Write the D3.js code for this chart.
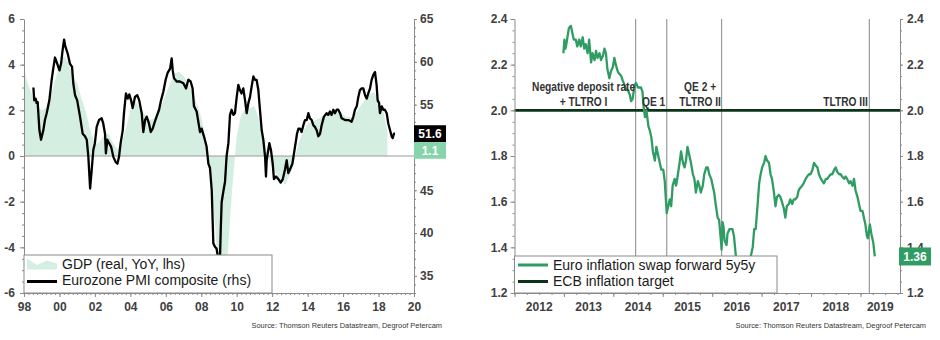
<!DOCTYPE html>
<html><head><meta charset="utf-8">
<script src="https://cdn.jsdelivr.net/npm/d3@7"></script>
<style>body{margin:0;background:#fff}svg{display:block}</style>
</head><body>
<svg id="c" width="940" height="340"></svg>
<script>
// ---------------- DATA ----------------
// Left chart: Eurozone GDP (real, YoY, %) quarterly from 1998 Q1
const gdpStartYear = 1998;
const gdpValues = [
 3.8,3.1,2.6,2.2, 2.0,2.1,2.6,3.3, 4.0,4.4,4.1,3.5, 3.2,2.5,1.9,1.1,
 0.5,0.6,0.9,1.0, 0.6,0.3,0.5,1.2, 2.0,2.4,2.2,1.9, 1.6,1.6,1.8,2.2,
 2.7,3.2,3.6,3.7, 3.5,3.2,2.8,2.3, 1.7,0.8,-0.6,-2.8, -5.3,-5.6,-4.2,-1.4,
 0.9,1.8,2.1,2.1, 2.2,1.6,0.8,0.0, -0.5,-0.8,-1.1,-1.25, -0.8,-0.2,0.6,1.1,
 1.4,1.5,1.6,1.7, 1.8,1.9,1.9,1.9, 1.8,1.7,1.7,1.9, 2.2,2.5,2.7,2.8,
 2.4,2.0,1.1
];
// Eurozone PMI composite (rhs)
const pmiDates = [
 1998.53,1998.58,1998.66,1998.71,1998.77,1998.87,1998.96,1999.09,1999.18,1999.28,1999.43,1999.56,1999.65,1999.75,1999.84,
 2000.00,2000.09,2000.18,2000.26,2000.33,2000.46,2000.59,2000.71,2000.78,2000.88,2001.00,2001.16,2001.31,2001.44,2001.54,
 2001.63,2001.73,2001.82,2001.91,2002.00,2002.10,2002.23,2002.38,2002.47,2002.57,2002.62,2002.70,2002.80,2002.91,2003.04,
 2003.17,2003.27,2003.36,2003.45,2003.57,2003.64,2003.75,2003.85,2003.94,2004.04,2004.13,2004.26,2004.39,2004.50,2004.64,
 2004.73,2004.83,2004.92,2005.05,2005.15,2005.26,2005.35,2005.48,2005.62,2005.73,2005.86,2005.99,2006.10,2006.24,2006.33,
 2006.39,2006.46,2006.61,2006.80,2006.99,2007.14,2007.27,2007.40,2007.51,2007.59,2007.74,2007.85,2007.93,2008.02,2008.15,
 2008.30,2008.40,2008.49,2008.59,2008.68,2008.77,2008.86,2008.96,2009.05,2009.10,2009.15,2009.24,2009.34,2009.43,2009.53,
 2009.62,2009.71,2009.81,2009.90,2010.00,2010.09,2010.18,2010.27,2010.37,2010.47,2010.56,2010.66,2010.75,2010.84,2010.94,
 2011.03,2011.12,2011.22,2011.31,2011.41,2011.50,2011.60,2011.65,2011.69,2011.84,2011.93,2012.03,2012.10,2012.22,2012.35,
 2012.48,2012.60,2012.72,2012.82,2012.91,2013.00,2013.14,2013.23,2013.35,2013.40,2013.48,2013.57,2013.66,2013.76,2013.85,
 2013.95,2014.04,2014.13,2014.23,2014.32,2014.41,2014.51,2014.60,2014.70,2014.79,2014.92,2015.07,2015.16,2015.26,2015.35,
 2015.45,2015.54,2015.64,2015.73,2015.83,2015.92,2016.11,2016.30,2016.48,2016.58,2016.67,2016.77,2016.86,2016.95,2017.05,
 2017.14,2017.24,2017.33,2017.42,2017.52,2017.61,2017.71,2017.80,2017.89,2017.95,2018.03,2018.08,2018.18,2018.27,2018.36,
 2018.46,2018.55,2018.65,2018.74,2018.80,2018.87,2018.93
];
const pmiValues = [
 57.0,55.5,55.7,55.2,55.3,52.0,50.9,52.0,53.2,54.0,55.5,57.9,59.2,60.5,60.0,
 59.0,59.8,61.4,62.6,61.8,61.0,59.8,59.4,57.5,56.1,55.5,53.6,51.6,51.3,50.9,
 48.9,45.2,47.4,49.7,50.5,52.4,53.2,53.4,52.8,51.6,49.3,50.9,50.5,50.1,48.9,
 48.3,48.1,48.9,50.5,52.0,54.0,56.3,55.7,56.2,55.5,54.6,55.9,56.1,55.5,54.0,
 51.8,53.2,53.6,52.8,51.8,52.2,52.8,53.6,54.4,55.5,56.5,57.9,58.7,59.2,60.4,
 59.0,58.1,57.7,57.7,57.5,56.9,57.9,57.7,56.9,54.8,54.2,52.8,51.8,52.2,51.3,
 50.1,48.1,47.6,45.0,38.8,38.4,38.2,37.0,36.5,40.5,43.6,44.8,46.0,49.0,50.5,
 53.8,54.4,53.8,54.0,55.9,57.3,56.7,56.3,56.9,55.5,54.0,55.2,55.9,57.1,58.3,
 57.9,57.9,56.7,54.4,52.0,50.9,48.9,46.6,48.5,50.5,49.7,48.1,46.3,46.6,46.3,
 45.9,46.3,47.4,48.5,47.0,47.4,48.1,49.3,50.9,51.6,52.2,52.2,51.8,52.6,53.2,
 53.2,54.0,53.4,53.2,52.6,52.4,52.0,51.3,51.6,52.6,53.6,54.0,53.8,54.2,53.8,
 54.4,54.0,54.4,54.4,54.0,53.4,53.2,53.2,53.0,53.6,54.4,54.8,55.9,56.7,56.9,
 56.9,56.1,55.7,56.3,56.9,57.9,58.5,58.8,57.3,55.5,55.2,54.0,54.8,54.4,54.4,
 54.0,52.8,52.0,51.3,51.1,51.6,51.6
];
const leftYTicks = [-6,-4,-2,0,2,4,6];
const rightYTicks = [35,40,45,50,55,60,65];
const rightYHidden = [50];   // covered by the value labels in the original
const leftXTicks = [1998,2000,2002,2004,2006,2008,2010,2012,2014,2016,2018,2020];
const leftXLabels = ["98","00","02","04","06","08","10","12","14","16","18","20"];
const leftLegend = ["GDP (real, YoY, lhs)","Eurozone PMI composite (rhs)"];

// Right chart: Euro inflation swap forward 5y5y
const swapDates = [
 2012.99,2013.01,2013.03,2013.05,2013.10,2013.14,2013.17,2013.20,2013.24,2013.27,2013.31,2013.34,2013.38,2013.41,2013.44,
 2013.48,2013.51,2013.55,2013.58,2013.62,2013.65,2013.68,2013.72,2013.75,2013.79,2013.82,2013.85,2013.88,2013.92,2013.95,
 2013.99,2014.02,2014.05,2014.09,2014.12,2014.16,2014.19,2014.23,2014.26,2014.29,2014.33,2014.36,2014.39,2014.43,2014.46,
 2014.50,2014.53,2014.56,2014.59,2014.61,2014.64,2014.67,2014.71,2014.74,2014.77,2014.80,2014.84,2014.87,2014.90,2014.94,
 2014.97,2015.01,2015.04,2015.08,2015.10,2015.14,2015.17,2015.20,2015.24,2015.27,2015.30,2015.34,2015.37,2015.41,2015.44,
 2015.47,2015.50,2015.54,2015.57,2015.61,2015.64,2015.67,2015.71,2015.74,2015.77,2015.81,2015.84,2015.88,2015.91,2015.94,
 2015.98,2016.01,2016.04,2016.07,2016.11,2016.14,2016.18,2016.19,2016.21,2016.23,2016.25,2016.29,2016.31,2016.35,2016.38,
 2016.41,2016.44,2016.48,2016.55,2016.62,2016.70,2016.78,2016.82,2016.85,2016.88,2016.92,2016.95,2016.98,2017.01,2017.05,
 2017.08,2017.11,2017.15,2017.18,2017.21,2017.25,2017.28,2017.31,2017.35,2017.38,2017.41,2017.45,2017.48,2017.51,2017.55,
 2017.58,2017.62,2017.65,2017.68,2017.72,2017.75,2017.78,2017.82,2017.85,2017.89,2017.92,2017.96,2017.99,2018.03,2018.06,
 2018.09,2018.13,2018.16,2018.20,2018.23,2018.26,2018.30,2018.33,2018.36,2018.40,2018.43,2018.47,2018.50,2018.53,2018.57,
 2018.60,2018.63,2018.67,2018.70,2018.73,2018.77,2018.80,2018.84,2018.87,2018.90,2018.94,2018.97,2019.00,2019.04,2019.07,
 2019.10,2019.13,2019.15,2019.19,2019.22,2019.26,2019.29
];
const swapValues = [
 2.25,2.31,2.27,2.29,2.36,2.37,2.34,2.31,2.31,2.28,2.31,2.28,2.32,2.27,2.29,
 2.25,2.31,2.21,2.25,2.22,2.26,2.23,2.25,2.22,2.24,2.27,2.25,2.18,2.14,2.17,
 2.19,2.23,2.20,2.17,2.16,2.15,2.13,2.11,2.09,2.09,2.07,2.04,2.05,2.11,2.12,
 2.10,2.10,2.10,2.08,2.02,1.97,2.00,1.93,1.91,1.88,1.82,1.78,1.84,1.81,1.77,
 1.74,1.74,1.69,1.55,1.57,1.61,1.58,1.67,1.70,1.67,1.71,1.77,1.82,1.77,1.75,
 1.78,1.84,1.80,1.77,1.72,1.70,1.64,1.69,1.67,1.64,1.67,1.72,1.75,1.75,1.72,
 1.70,1.67,1.64,1.59,1.53,1.52,1.42,1.39,1.51,1.49,1.43,1.41,1.46,1.48,1.48,
 1.48,1.45,1.36,1.31,1.28,1.30,1.36,1.40,1.48,1.48,1.59,1.68,1.72,1.75,1.77,
 1.80,1.78,1.77,1.72,1.70,1.64,1.58,1.62,1.63,1.62,1.60,1.57,1.53,1.58,1.59,
 1.61,1.59,1.61,1.61,1.62,1.65,1.66,1.67,1.68,1.70,1.71,1.72,1.72,1.74,1.77,
 1.76,1.75,1.72,1.70,1.69,1.68,1.70,1.70,1.71,1.72,1.72,1.74,1.75,1.73,1.72,
 1.72,1.71,1.70,1.71,1.70,1.68,1.69,1.67,1.70,1.65,1.62,1.59,1.56,1.56,1.53,
 1.50,1.45,1.44,1.50,1.46,1.42,1.36
];
const ecbTarget = 2.0;
const swapYTicks = [1.2,1.4,1.6,1.8,2.0,2.2,2.4];
const swapYears = [2012,2013,2014,2015,2016,2017,2018,2019];
const eventDates = [2014.45, 2015.08, 2016.19, 2019.18];
const eventLabels = [["Negative deposit rate","+ TLTRO I"],["QE 1"],["QE 2 +","TLTRO II"],["TLTRO III"]];
const rightLegend = ["Euro inflation swap forward 5y5y","ECB inflation target"];
const sourceText = "Source: Thomson Reuters Datastream, Degroof Petercam";

// ---------------- DRAW ----------------
const svg = d3.select("#c");
const FONT = '"Liberation Sans", Arial, Helvetica, sans-serif';
const AXC = "#404040", LINEC = "#8a8a8a";
const GDP_FILL = "#d4efe1", GDP_LABEL = "#86d4aa";
const SWAP_C = "#2f9c63", ECB_C = "#0b3319";

function styleAxis(g) {
  g.attr("font-family", FONT).attr("font-size", 12).attr("font-weight", "bold");
  g.select(".domain").attr("stroke", LINEC);
  g.selectAll(".tick line").attr("stroke", LINEC);
  g.selectAll(".tick text").attr("fill", AXC);
}
function minor(g) {
  g.select(".domain").remove();
  g.selectAll(".tick line").attr("stroke", LINEC);
  g.selectAll(".tick text").remove();
}

// ===== LEFT CHART =====
const xL = d3.scaleLinear().domain([1998, 2020]).range([24, 414]);
const yL = d3.scaleLinear().domain([-6, 6]).range([293, 19]);
const yR = d3.scaleLinear().domain([33, 65]).range([293, 19]);

const gdp = gdpValues.map((v, i) => ({t: gdpStartYear + i * 0.25, v}));
const pmi = pmiDates.map((t, i) => ({t, v: pmiValues[i]}));

const left = svg.append("g");
left.append("path").datum(gdp)
  .attr("d", d3.area().x(d => xL(d.t)).y0(yL(0)).y1(d => yL(d.v)))
  .attr("fill", GDP_FILL);
left.append("line").attr("x1", xL(1998)).attr("x2", xL(2020))
  .attr("y1", yL(0)).attr("y2", yL(0)).attr("stroke", "#9a9a9a").attr("stroke-width", 1);
left.append("path").datum(pmi)
  .attr("d", d3.line().x(d => xL(d.t)).y(d => yR(d.v)))
  .attr("fill", "none").attr("stroke", "#000").attr("stroke-width", 2.3)
  .attr("stroke-linejoin", "round");

// axes
left.append("g").attr("transform", `translate(${xL(1998)},0)`)
  .call(d3.axisLeft(yL).tickValues(d3.range(-6, 6.01, 0.5)).tickSize(2).tickSizeOuter(0)).call(minor);
left.append("g").attr("transform", `translate(${xL(1998)},0)`)
  .call(d3.axisLeft(yL).tickValues(leftYTicks).tickSize(4).tickPadding(5).tickSizeOuter(0).tickFormat(d => String(d)))
  .call(styleAxis);
left.append("g").attr("transform", `translate(${xL(2020)},0)`)
  .call(d3.axisRight(yR).tickValues(d3.range(33, 65.01, 1)).tickSize(2).tickSizeOuter(0)).call(minor);
const rAx = left.append("g").attr("transform", `translate(${xL(2020)},0)`)
  .call(d3.axisRight(yR).tickValues(rightYTicks).tickSize(3).tickPadding(3).tickSizeOuter(0).tickFormat(d => String(d)))
  .call(styleAxis);
rAx.selectAll(".tick text").filter(d => rightYHidden.includes(d)).remove();
left.append("g").attr("transform", `translate(0,${yL(-6)})`)
  .call(d3.axisBottom(xL).tickValues(d3.range(1998, 2020.01, 0.25)).tickSize(2).tickSizeOuter(0)).call(minor);
left.append("g").attr("transform", `translate(0,${yL(-6)})`)
  .call(d3.axisBottom(xL).tickValues(leftXTicks).tickSize(4).tickPadding(5).tickSizeOuter(0)
    .tickFormat((d, i) => leftXLabels[i]))
  .call(styleAxis);

// legend
const lg = left.append("g");
lg.append("rect").attr("x", xL(1998)).attr("y", 255).attr("width", 248).attr("height", yL(-6) - 255)
  .attr("fill", "#fff").attr("stroke", LINEC).attr("stroke-width", 1);
lg.append("polygon").attr("points", "27,258.5 37,265 47,260.5 57,263.5 57,269.5 27,269.5").attr("fill", GDP_FILL);
lg.append("line").attr("x1", 27).attr("x2", 57).attr("y1", 281.5).attr("y2", 281.5)
  .attr("stroke", "#000").attr("stroke-width", 3);
lg.selectAll("text").data(leftLegend).join("text")
  .attr("x", 62).attr("y", (d, i) => 268.5 + i * 16.5)
  .attr("font-family", FONT).attr("font-size", 14).attr("fill", "#1a1a1a").text(d => d);

// value labels
const pmiLast = pmiValues[pmiValues.length - 1];
const gdpLast = gdpValues[gdpValues.length - 1];
const by = yR(pmiLast) - 8.5;
left.append("rect").attr("x", 414).attr("y", by).attr("width", 32).attr("height", 17).attr("fill", "#000");
left.append("text").attr("x", 430).attr("y", by + 13).attr("text-anchor", "middle")
  .attr("font-family", FONT).attr("font-size", 12).attr("font-weight", "bold").attr("fill", "#fff")
  .text(pmiLast.toFixed(1));
left.append("rect").attr("x", 414).attr("y", by + 17).attr("width", 32).attr("height", 16.5).attr("fill", GDP_LABEL);
left.append("text").attr("x", 430).attr("y", by + 30).attr("text-anchor", "middle")
  .attr("font-family", FONT).attr("font-size", 12).attr("font-weight", "bold").attr("fill", "#fff")
  .text(gdpLast.toFixed(1));

left.append("text").attr("x", 442).attr("y", 328).attr("text-anchor", "end")
  .attr("font-family", FONT).attr("font-size", 7.4).attr("fill", "#333").text(sourceText);

// ===== RIGHT CHART =====
const xS = d3.scaleLinear().domain([2012, 2019.8]).range([514.5, 900]);
const yS = d3.scaleLinear().domain([1.2, 2.4]).range([293, 19]);
const swap = swapDates.map((t, i) => ({t, v: swapValues[i]}));
const right = svg.append("g");

// event lines
right.selectAll("line.ev").data(eventDates).join("line").attr("class", "ev")
  .attr("x1", d => xS(d)).attr("x2", d => xS(d)).attr("y1", yS(2.4)).attr("y2", yS(1.2))
  .attr("stroke", "#9a9a9a").attr("stroke-width", 1.2);
// target
right.append("line").attr("x1", xS(2012)).attr("x2", xS(2019.8))
  .attr("y1", yS(ecbTarget)).attr("y2", yS(ecbTarget)).attr("stroke", ECB_C).attr("stroke-width", 2.6);
// swap line
right.append("path").datum(swap)
  .attr("d", d3.line().x(d => xS(d.t)).y(d => yS(d.v)))
  .attr("fill", "none").attr("stroke", SWAP_C).attr("stroke-width", 2.3).attr("stroke-linejoin", "round");

// annotations (condensed bold text)
const annAnchor = ["middle", "end", "middle", "end"];
const annDx = [-52, -1.5, -21.5, -1.5];
eventDates.forEach((d, i) => {
  const lines = eventLabels[i];
  lines.forEach((s, j) => {
    const yb = lines.length === 2 ? 90.5 + j * 15 : 105.5;
    right.append("text")
      .attr("transform", `translate(${xS(d) + annDx[i]},${yb}) scale(0.85,1)`)
      .attr("text-anchor", annAnchor[i]).attr("font-family", FONT).attr("font-size", 12)
      .attr("font-weight", "bold").attr("fill", "#333").text(s);
  });
});

// axes
right.append("g").attr("transform", `translate(${xS(2012)},0)`)
  .call(d3.axisLeft(yS).tickValues(d3.range(1.2, 2.401, 0.05)).tickSize(2).tickSizeOuter(0)).call(minor);
right.append("g").attr("transform", `translate(${xS(2012)},0)`)
  .call(d3.axisLeft(yS).tickValues(swapYTicks).tickSize(4).tickPadding(3).tickSizeOuter(0).tickFormat(d3.format(".1f")))
  .call(styleAxis);
right.append("g").attr("transform", `translate(${xS(2019.8)},0)`)
  .call(d3.axisRight(yS).tickValues(d3.range(1.2, 2.401, 0.05)).tickSize(2).tickSizeOuter(0)).call(minor);
right.append("g").attr("transform", `translate(${xS(2019.8)},0)`)
  .call(d3.axisRight(yS).tickValues(swapYTicks).tickSize(3).tickPadding(4).tickSizeOuter(0).tickFormat(d3.format(".1f")))
  .call(styleAxis);
right.append("g").attr("transform", `translate(0,${yS(1.2)})`)
  .call(d3.axisBottom(xS).tickValues(d3.range(2012, 2019.8, 0.25)).tickSize(2).tickSizeOuter(0)).call(minor);
right.append("g").attr("transform", `translate(0,${yS(1.2)})`)
  .call(d3.axisBottom(xS).tickValues(swapYears).tickSize(4).tickSizeOuter(0).tickFormat(""))
  .call(styleAxis);
right.selectAll("text.yr").data(swapYears).join("text").attr("class", "yr")
  .attr("x", d => xS((Math.max(d, 2012) + Math.min(d + 1, 2019.8)) / 2)).attr("y", 310.5)
  .attr("text-anchor", "middle").attr("font-family", FONT).attr("font-size", 12)
  .attr("font-weight", "bold").attr("fill", AXC).text(d => d);

// legend
const rg = right.append("g");
rg.append("rect").attr("x", xS(2012)).attr("y", 256).attr("width", 262.5).attr("height", yS(1.2) - 256)
  .attr("fill", "#fff").attr("stroke", LINEC).attr("stroke-width", 1);
rg.append("line").attr("x1", 518).attr("x2", 548).attr("y1", 265).attr("y2", 265)
  .attr("stroke", SWAP_C).attr("stroke-width", 3);
rg.append("line").attr("x1", 518).attr("x2", 548).attr("y1", 281.5).attr("y2", 281.5)
  .attr("stroke", ECB_C).attr("stroke-width", 3);
rg.selectAll("text").data(rightLegend).join("text")
  .attr("x", 553).attr("y", (d, i) => 269.5 + i * 16.5)
  .attr("font-family", FONT).attr("font-size", 14).attr("fill", "#1a1a1a").text(d => d);

// value label
const swapLast = swapValues[swapValues.length - 1];
const sy = yS(swapLast) - 9;
right.append("rect").attr("x", 899).attr("y", sy).attr("width", 32).attr("height", 18).attr("fill", SWAP_C);
right.append("text").attr("x", 915).attr("y", sy + 13.5).attr("text-anchor", "middle")
  .attr("font-family", FONT).attr("font-size", 12).attr("font-weight", "bold").attr("fill", "#fff")
  .text(swapLast.toFixed(2));

right.append("text").attr("x", 926).attr("y", 328).attr("text-anchor", "end")
  .attr("font-family", FONT).attr("font-size", 7.4).attr("fill", "#333").text(sourceText);
</script>
</body></html>
